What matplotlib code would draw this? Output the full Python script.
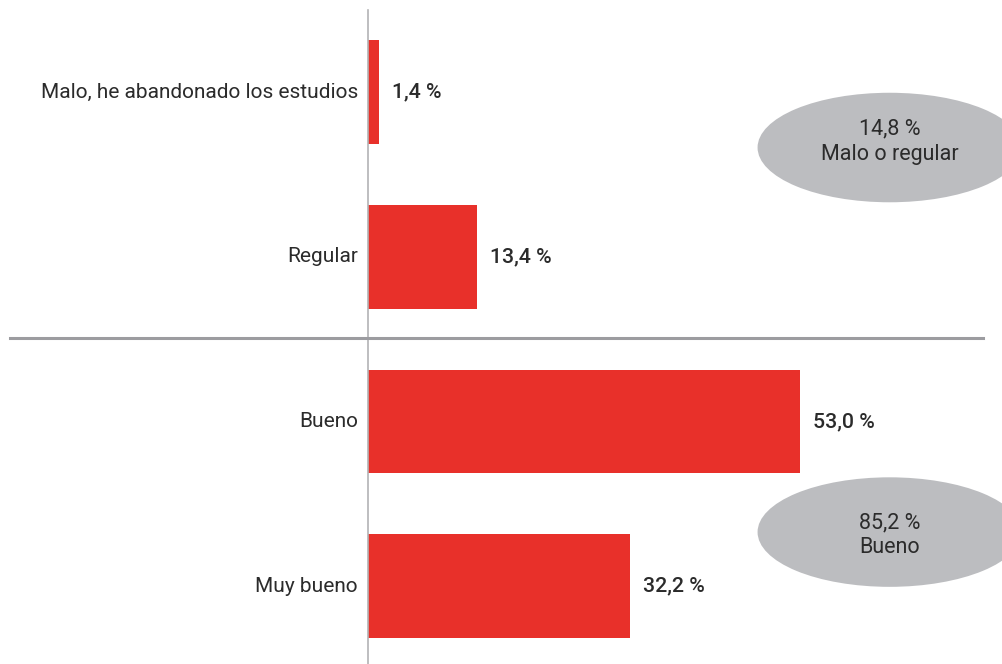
import matplotlib
matplotlib.use("Agg")
import matplotlib.pyplot as plt
from matplotlib.patches import Ellipse
from matplotlib.lines import Line2D

categorias = ["Malo, he abandonado los estudios", "Regular", "Bueno", "Muy bueno"]
porcentajes = [1.4, 13.4, 53.0, 32.2]
grupos = ["Malo o regular", "Bueno"]

ROJO = "#e8302a"
GRIS = "#bcbdc0"
TEXTO = "#2b2b2b"
FUENTE = ["Roboto", "DejaVu Sans"]

W, H = 1003, 664
fig = plt.figure(figsize=(W / 100, H / 100), dpi=100)
fig.patch.set_facecolor("white")

# eje principal: el cero cae en x=368 px, ocupa toda la altura desde y=10 px
ax = fig.add_axes([368 / W, 0, 1 - 368 / W, (H - 10) / H])
escala = 8.15  # px por punto porcentual
ax.set_xlim(0, (W - 368) / escala)
ax.set_ylim(3.473, -0.498)

pos = list(range(len(categorias)))
ax.barh(pos, porcentajes, height=0.63, color=ROJO, zorder=2)

for y, v, c in zip(pos, porcentajes, categorias):
    etiqueta = ("%.1f %%" % v).replace(".", ",")
    ax.text(v + 13 / escala, y, etiqueta, va="center", ha="left",
            fontsize=15.3, fontweight="medium", color=TEXTO, family=FUENTE)
    ax.text(-10 / escala, y, c, va="center", ha="right", fontsize=15,
            color=TEXTO, family=FUENTE, clip_on=False)

for s in ["top", "right", "bottom"]:
    ax.spines[s].set_visible(False)
ax.spines["left"].set_color("#b3b3b5")
ax.spines["left"].set_linewidth(1.2)
ax.set_xticks([])
ax.set_yticks([])
ax.patch.set_alpha(0)

# línea divisoria entre los dos grupos
fig.add_artist(Line2D([10 / W, 983 / W], [1 - 338 / H, 1 - 338 / H],
                      color="#9c9ca0", linewidth=2.2))

# óvalos con el total de cada grupo
totales = [porcentajes[0] + porcentajes[1], porcentajes[2] + porcentajes[3]]
centros_y = [0.337, 2.672]
desplaz = [-0.035, 0.02]
for cy, dy, total, nombre in zip(centros_y, desplaz, totales, grupos):
    ax.add_patch(Ellipse((64.0, cy), 32.4, 0.665, facecolor=GRIS,
                         edgecolor="none", clip_on=False, zorder=1))
    texto = ("%.1f %%" % total).replace(".", ",") + "\n" + nombre
    ax.text(64.0, cy + dy, texto, ha="center", va="center", fontsize=15.5,
            color=TEXTO, family=FUENTE, linespacing=1.25, zorder=3)

fig.savefig("out.png", dpi=100, facecolor="white")
